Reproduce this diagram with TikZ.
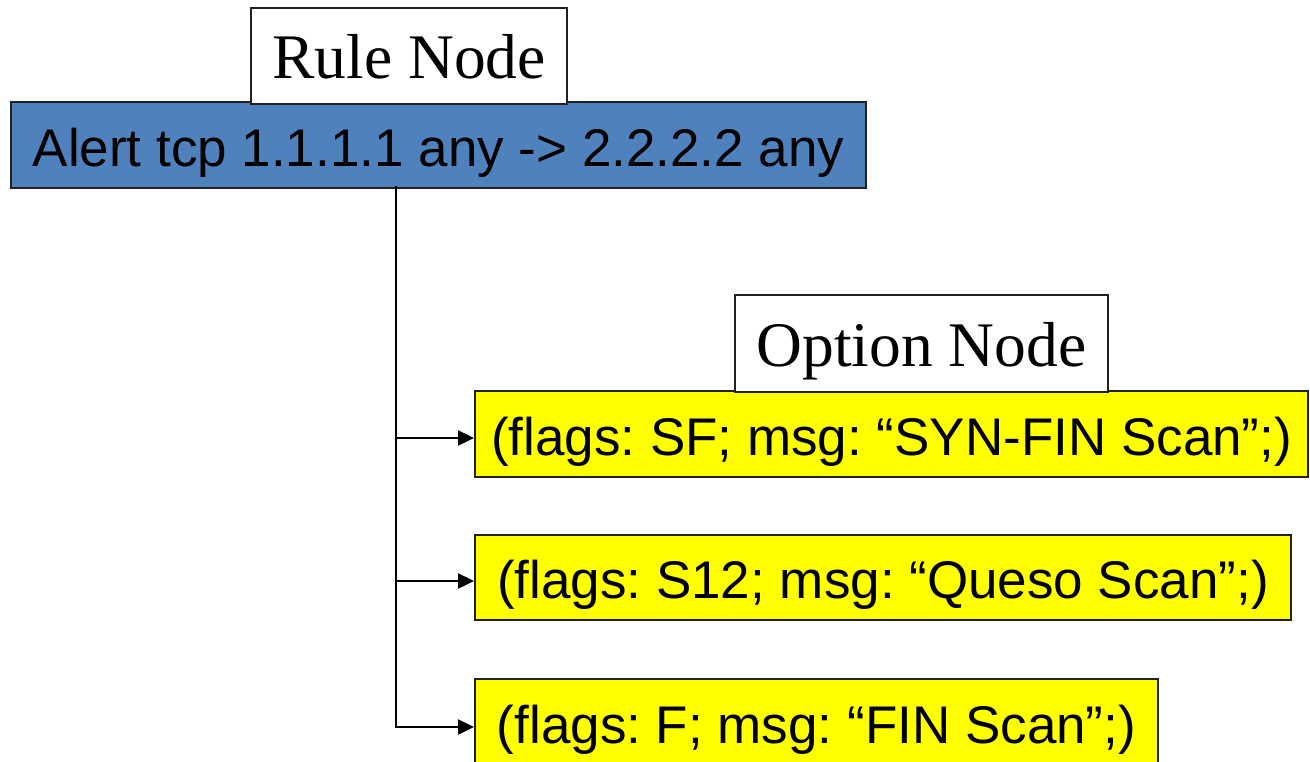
\documentclass[tikz,border=0pt]{standalone}
\usepackage{fontspec}
\setmainfont{Liberation Serif}
\newfontfamily\arialfont{Liberation Sans}
\usetikzlibrary{arrows.meta}
\definecolor{ruleblue}{HTML}{4F81BD}
\definecolor{optyellow}{HTML}{FFFF00}
\definecolor{edgegray}{HTML}{202020}
\frenchspacing
\begin{document}
\begin{tikzpicture}[x=1pt,y=-1pt,
  labelbox/.style={draw=edgegray,line width=2pt,fill=white,inner sep=0pt,
    text height=45pt,text depth=0pt,font=\fontsize{63.5}{70}\selectfont},
  rulebox/.style={draw=edgegray,line width=2pt,fill=ruleblue,inner sep=0pt,
    text height=42pt,text depth=0pt,font=\arialfont\fontsize{53}{60}\selectfont},
  optbox/.style={draw=edgegray,line width=2pt,fill=optyellow,inner sep=0pt,
    text height=42pt,text depth=0pt,font=\arialfont\fontsize{53}{60}\selectfont},
  link/.style={line width=2.4pt,-{Triangle[length=16pt,width=15pt]}}]
\useasboundingbox (0,0) rectangle (1310,761);
\clip (0,0) rectangle (1310,761);

% rule header and its label
\node[rulebox,minimum width=855pt,minimum height=86pt] (rule) at (438.5,145)
  {Alert tcp 1.1.1.1 any -> 2.2.2.2 any};
\node[labelbox,minimum width=316pt,minimum height=96pt] (rulelabel) at (409,56) {Rule Node};

% option chain
\node[optbox,minimum width=833pt,minimum height=86pt,anchor=west] (opt1) at (474,434)
  {(flags: SF; msg: “SYN-FIN Scan”;)};
\node[optbox,minimum width=816pt,minimum height=85pt,anchor=west] (opt2) at (474,577.5)
  {(flags: S12; msg: “Queso Scan”;)};
\node[optbox,minimum width=683pt,minimum height=86pt,anchor=west] (opt3) at (474,722)
  {(flags: F; msg: “FIN Scan”;)};
\node[labelbox,minimum width=373pt,minimum height=97pt] (optlabel) at (921.5,343.5) {Option Node};

% spine from the rule header down to the options
\coordinate (top) at (396,186);
\coordinate (b1) at (396,438);
\coordinate (b2) at (396,581);
\coordinate (b3) at (396,727);
\draw[link] (top) |- (b3 -| opt3.west);
\draw[link] (b1) -- (b1 -| opt1.west);
\draw[link] (b2) -- (b2 -| opt2.west);
\end{tikzpicture}
\end{document}
